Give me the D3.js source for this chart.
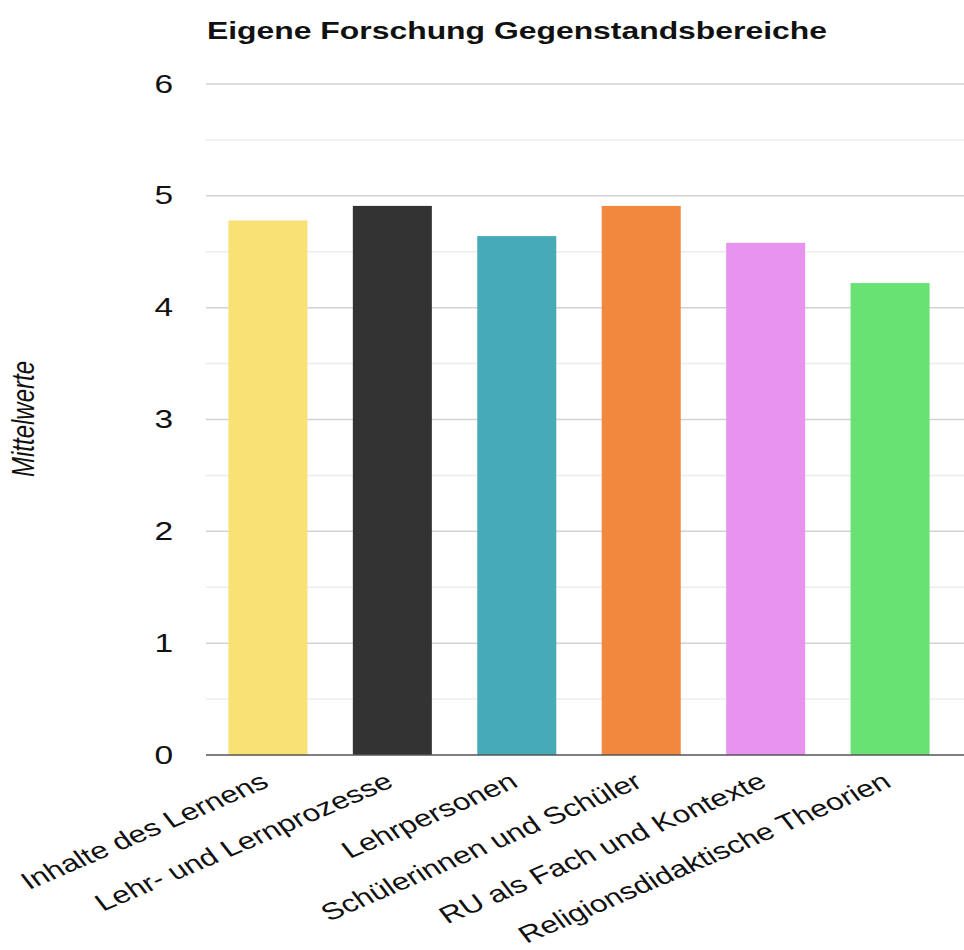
<!DOCTYPE html>
<html>
<head>
<meta charset="utf-8">
<script src="https://cdn.jsdelivr.net/npm/d3@7"></script>
<style>
  html, body { margin: 0; padding: 0; background: #fff; }
  svg { display: block; }
  text { font-family: Arial, "Liberation Sans", sans-serif; fill: #111; }
</style>
</head>
<body>
<script>
// Data
const categories = [
    "Inhalte des Lernens",
    "Lehr- und Lernprozesse",
    "Lehrpersonen",
    "Schülerinnen und Schüler",
    "RU als Fach und Kontexte",
    "Religionsdidaktische Theorien"
];
const values = [4.78, 4.91, 4.64, 4.91, 4.58, 4.22];
const colours = ["#f9e174", "#333333", "#47aab9", "#f0883d", "#e893ee", "#69e274"];
const yTicks = [0, 1, 2, 3, 4, 5, 6];
const yGrid = [0.5, 1, 1.5, 2, 2.5, 3, 3.5, 4, 4.5, 5, 5.5, 6];

// The picture is stretched horizontally, so draw in a narrower box and stretch it
const sx = 1.34;
const W = 964, H = 950;
const px = (v) => v / sx;

const svg = d3.select("body")
    .append("svg")
    .attr("width", W)
    .attr("height", H)
    .attr("viewBox", `0 0 ${px(W)} ${H}`)
    .attr("preserveAspectRatio", "none");

// Scales
const x = d3.scaleBand()
    .domain(categories)
    .range([px(206), px(952)])
    .paddingInner(0.365)
    .paddingOuter(0.18);

const y = d3.scaleLinear()
    .domain([0, 6])
    .range([755, 84]);

// Gridlines
svg.append("g")
    .selectAll("line")
    .data(yGrid)
    .join("line")
    .attr("x1", px(206))
    .attr("x2", px(W))
    .attr("y1", (d) => y(d))
    .attr("y2", (d) => y(d))
    .attr("stroke", (d) => Number.isInteger(d) ? "#d2d2d2" : "#ececec")
    .attr("stroke-width", 1.5);

// Bars
svg.append("g")
    .selectAll("rect")
    .data(values)
    .join("rect")
    .attr("x", (d, i) => x(categories[i]))
    .attr("width", x.bandwidth())
    .attr("y", (d) => y(d))
    .attr("height", (d) => y(0) - y(d))
    .attr("fill", (d, i) => colours[i]);

// Baseline
svg.append("line")
    .attr("x1", px(206))
    .attr("x2", px(W))
    .attr("y1", y(0))
    .attr("y2", y(0))
    .attr("stroke", "#555")
    .attr("stroke-width", 1.5);

// Y axis
const yAxis = svg.append("g")
    .attr("transform", `translate(${px(206)}, 0)`)
    .call(d3.axisLeft(y).tickValues(yTicks).tickFormat(d3.format("d")).tickSize(0).tickPadding(px(33)));
yAxis.select(".domain").remove();
yAxis.selectAll("text")
    .style("font-size", "25px")
    .style("font-family", "Arial, 'Liberation Sans', sans-serif")
    .attr("fill", "#111");

// X axis labels
const xAxis = svg.append("g")
    .attr("transform", `translate(0, ${y(0)})`)
    .call(d3.axisBottom(x).tickSize(0));
xAxis.select(".domain").remove();
xAxis.selectAll("text")
    .attr("x", 0)
    .attr("y", 0)
    .attr("dy", 0)
    .attr("transform", "translate(2, 31) rotate(-30)")
    .style("text-anchor", "end")
    .style("font-size", "23.7px")
    .style("font-family", "Arial, 'Liberation Sans', sans-serif")
    .attr("fill", "#111");

// Y axis title
svg.append("text")
    .attr("transform", `translate(${px(34)}, 419) rotate(-90)`)
    .attr("text-anchor", "middle")
    .style("font-size", "24px")
    .style("font-style", "italic")
    .text("Mittelwerte");

// Chart title
svg.append("text")
    .attr("x", px(207))
    .attr("y", 39)
    .style("font-size", "23.8px")
    .style("font-weight", "bold")
    .text("Eigene Forschung Gegenstandsbereiche");
</script>
</body>
</html>
